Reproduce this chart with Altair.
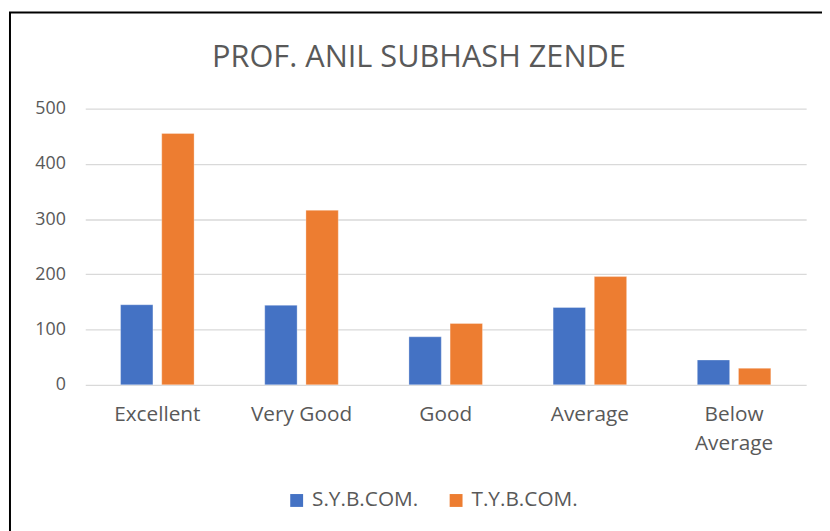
import altair as alt
import pandas as pd

title_text = "PROF. ANIL SUBHASH ZENDE"
categories = ["Excellent", "Very Good", "Good", "Average", "Below Average"]
series = ["S.Y.B.COM.", "T.Y.B.COM."]
sy_values = [145, 144, 87, 140, 45]
ty_values = [455, 316, 111, 196, 30]
colors = ["#4472C4", "#ED7D31"]
y_ticks = [0, 100, 200, 300, 400, 500]

rows = []
for c, a, b in zip(categories, sy_values, ty_values):
    rows.append({"category": c, "series": series[0], "value": a})
    rows.append({"category": c, "series": series[1], "value": b})
df = pd.DataFrame(rows)

W, H = 728, 279
FONT = "Open Sans"
GRAY = "#595959"

bars = alt.Chart(df).mark_bar(stroke="white", strokeWidth=0.6, strokeOpacity=0.5).encode(
    x=alt.X(
        "category:N", sort=categories,
        scale=alt.Scale(paddingInner=0.49, paddingOuter=0.245),
        axis=alt.Axis(
            title=None, labelAngle=0, labelFontSize=21, labelColor=GRAY, labelFont=FONT,
            domain=False, ticks=False, labelPadding=19, labelLineHeight=29,
            labelExpr="datum.label == 'Below Average' ? ['Below', 'Average'] : datum.label",
        ),
    ),
    xOffset=alt.XOffset("series:N", sort=series, scale=alt.Scale(paddingInner=0.214)),
    y=alt.Y(
        "value:Q", scale=alt.Scale(domain=[0, 500], nice=False),
        axis=alt.Axis(
            values=y_ticks, title=None, labelFontSize=18, labelColor=GRAY, labelFont=FONT,
            domain=False, ticks=False, labelPadding=20, gridColor="#d9d9d9", gridWidth=1.3,
        ),
    ),
    color=alt.Color(
        "series:N", sort=series,
        scale=alt.Scale(domain=series, range=colors),
        legend=alt.Legend(
            title=None, orient="none", legendX=203, legendY=385, direction="horizontal",
            symbolType="square", symbolSize=169, symbolStrokeWidth=0,
            labelFontSize=21, labelColor=GRAY, labelFont=FONT, labelOffset=5,
            columnPadding=27,
        ),
    ),
)

title = alt.Chart(pd.DataFrame({"t": [title_text]})).mark_text(
    font=FONT, fontSize=31, color=GRAY, baseline="alphabetic", align="center"
).encode(text="t:N", x=alt.value(337), y=alt.value(-42))

frame = alt.Chart(pd.DataFrame({"a": [0]})).mark_rect(
    fillOpacity=0, stroke="black", strokeWidth=2
).encode(
    x=alt.value(-76), x2=alt.value(W + 60), y=alt.value(-97), y2=alt.value(H + 200)
)

chart = alt.layer(bars, title, frame).properties(
    width=W, height=H,
    padding={"left": 78, "top": 99, "right": 16, "bottom": 145},
    autosize=alt.AutoSizeParams(type="none"),
).configure_view(stroke=None)

chart.save("out.html", embed_options={"renderer": "svg", "actions": False})
